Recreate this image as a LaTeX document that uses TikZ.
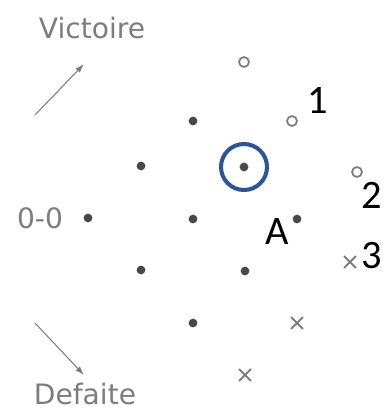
\documentclass[tikz,border=0pt]{standalone}
\usepackage{fontspec}
\setmainfont{DejaVu Sans}
\newfontfamily\calfont{Carlito}
\usetikzlibrary{arrows.meta, shapes.misc}
\definecolor{ink}{RGB}{72,72,72}
\definecolor{pale}{RGB}{125,125,125}
\definecolor{ring}{RGB}{47,84,150}

\begin{document}
\begin{tikzpicture}[x=0.02cm, y=-0.02cm, dot/.style={circle, fill=ink, inner sep=0pt, minimum size=0.175cm}, open/.style={circle, draw=pale, line width=1pt, inner sep=0pt, minimum size=0.2cm}, lost/.style={cross out, draw=pale, line width=1.1pt, inner sep=0pt, minimum size=0.2cm}, axis/.style={pale, line width=0.6pt, -{Latex[length=1.8mm, width=1.2mm]}}, word/.style={text=pale, font=\fontsize{16}{18}\selectfont}, num/.style={font=\calfont\fontsize{23}{26}\selectfont}]

\useasboundingbox (0,0) rectangle (385,412);
\node[word] (vic) at (92,28) {Victoire}; \node[word] (start) at (40,218) {0-0}; \node[word] (def) at (85,394) {Defaite};
\coordinate (v0) at (35,115); \coordinate (v1) at (84,64); \draw[axis] (v0)--(v1);
\coordinate (d0) at (35,323); \coordinate (d1) at (84,375); \draw[axis] (d0)--(d1);

\node[dot] (p00) at (88,218) {}; \node[dot] (p11) at (141,166) {}; \node[dot] (p10) at (141,270) {}; \node[dot] (p22) at (193,121) {}; \node[dot] (p21) at (193,219) {}; \node[dot] (p20) at (193,323) {};
\node[dot] (p32) at (244,167) {}; \node[dot] (p31) at (245,271) {}; \node[dot] (pA) at (297,219) {};
\node[open] (w0) at (244,62) {}; \node[open] (w1) at (292,121) {}; \node[open] (w2) at (357,172) {};
\node[lost] (l0) at (350,262) {}; \node[lost] (l1) at (297,323) {}; \node[lost] (l2) at (245,375) {};
\draw[ring, line width=2.3pt] (p32) circle (23);

\node[num] (n1) at (318,100) {1}; \node[num] (n2) at (372,195) {2}; \node[num] (n3) at (372,256) {3}; \node[num] (nA) at (277,232) {A};
\end{tikzpicture}
\end{document}
